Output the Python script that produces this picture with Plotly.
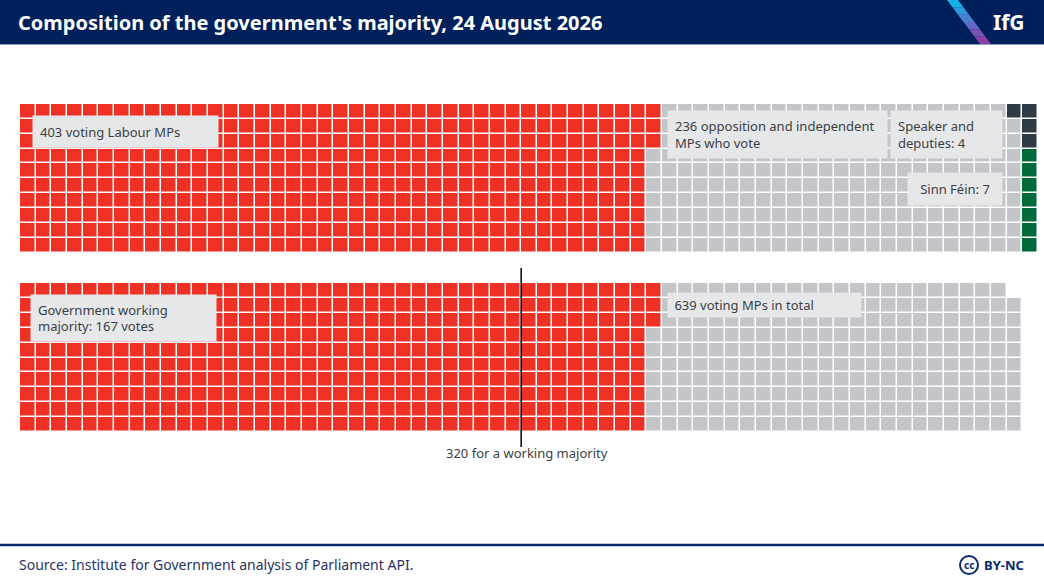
import plotly.graph_objects as go
import numpy as np

W, H = 1044, 586

# seats in the Commons, 24 August 2026
groups = ['Labour', 'Opposition and independent', 'Speaker and deputies', 'Sinn Féin']
seats_all = [403, 236, 4, 7]
seats_voting = [403, 236]
n_rows = 10
n_cols = 65
majority_line = 320

colors = ['#EE3124', '#C3C5C8', '#2E3A44', '#006A3A']


def build_grid(voting, other):
    # voting seats go column by column, the last part column sits at the bottom;
    # non-voting seats then fill whatever cells are still empty
    grid = np.full((n_rows, n_cols), np.nan)
    seq = []
    for i, n in enumerate(voting):
        seq += [i] * n
    full = len(seq) // n_rows
    rest = len(seq) % n_rows
    k = 0
    for c in range(full):
        for r in range(n_rows):
            grid[r, c] = seq[k]
            k += 1
    for r in range(n_rows - rest, n_rows):
        grid[r, full] = seq[k]
        k += 1
    seq2 = []
    for i, n in enumerate(other):
        seq2 += [len(voting) + i] * n
    k = 0
    for c in range(n_cols):
        for r in range(n_rows):
            if np.isnan(grid[r, c]) and k < len(seq2):
                grid[r, c] = seq2[k]
                k += 1
    return grid


top = build_grid(seats_all[:2], seats_all[2:])
bottom = build_grid(seats_voting, [])

cscale = [[0, colors[0]], [0.25, colors[0]], [0.25, colors[1]], [0.5, colors[1]],
          [0.5, colors[2]], [0.75, colors[2]], [0.75, colors[3]], [1, colors[3]]]


def px(x):
    return x / W


def py(y):
    return 1 - y / H


fig = go.Figure()
for grid, xa, ya in [(top, 'x', 'y'), (bottom, 'x2', 'y2')]:
    fig.add_trace(go.Heatmap(z=grid, x=list(range(n_cols)), y=list(range(n_rows)),
                             colorscale=cscale, zmin=0, zmax=3, showscale=False,
                             xgap=1.5, ygap=1.5, hoverinfo='skip', xaxis=xa, yaxis=ya))

ax = dict(range=[-0.5, n_cols - 0.5], domain=[px(20), px(1038)], visible=False, fixedrange=True)
fig.update_layout(
    width=W, height=H,
    margin=dict(l=0, r=0, t=0, b=0),
    paper_bgcolor='white', plot_bgcolor='white',
    font=dict(family='Noto Sans', color='#3A3F44'),
    xaxis=dict(ax, anchor='y'),
    xaxis2=dict(ax, anchor='y2'),
    yaxis=dict(range=[n_rows - 0.5, -0.5], domain=[py(252.5), py(104)], visible=False),
    yaxis2=dict(range=[n_rows - 0.5, -0.5], domain=[py(432), py(283)], visible=False),
)

# majority line
fig.add_shape(type='line', xref='x2', yref='paper', x0=majority_line / n_rows - 0.5,
              x1=majority_line / n_rows - 0.5, y0=py(447), y1=py(268),
              line=dict(color='black', width=1.5))
fig.add_annotation(x=majority_line / n_rows - 0.5, xref='x2', y=py(453), yref='paper',
                   text='%d for a working majority' % majority_line, showarrow=False, xshift=6,
                   xanchor='center', yanchor='middle', font=dict(size=13, color='#3A3F44'))

sp = '&nbsp;'
labels = [
    ('%d voting Labour MPs' % seats_all[0], 32, 115, 185, 31, 'left'),
    ('%d opposition and independent<br>MPs who vote' % seats_all[1], 667, 110, 219, 47, 'left'),
    ('Speaker and<br>deputies: %d' % seats_all[2], 890, 110, 111, 47, 'left'),
    ('Sinn Féin: %d' % seats_all[3], 907, 172, 94, 32, 'center'),
    ('Government working<br>majority: %d votes' % (seats_all[0] - seats_all[1]), 30, 294, 185, 46, 'left'),
    (sp + '%d voting MPs in total' % sum(seats_voting), 667, 292, 193, 24, 'left'),
]
for text, x0, y0, w, h, al in labels:
    pad = 7 if h > 28 else 3
    fig.add_annotation(x=px(x0), y=py(y0), xref='paper', yref='paper', xanchor='left', yanchor='top',
                       text=text, showarrow=False, align=al, valign='middle',
                       width=w - 2 * pad, height=h - 2 * pad, borderpad=pad,
                       bgcolor='#E6E7E9', font=dict(size=13, color='#3A3F44'))

# header band
fig.add_shape(type='rect', xref='paper', yref='paper', x0=0, x1=1, y0=py(44), y1=1,
              fillcolor='#00205B', line_width=0, layer='below')
fig.add_shape(type='line', xref='paper', yref='paper', x0=0, x1=1, y0=py(44.5), y1=py(44.5),
              line=dict(color='#8A9BC0', width=1))
fig.add_annotation(x=px(16), y=py(22), xref='paper', yref='paper', xanchor='left', yanchor='middle',
                   text="<b>Composition of the government's majority, 24 August 2026</b>",
                   showarrow=False, font=dict(size=20, color='white'))
fig.add_annotation(x=px(1027), y=py(22), xref='paper', yref='paper', xanchor='right', yanchor='middle',
                   text='<b>IfG</b>', showarrow=False, font=dict(size=21, color='white'))

# logo stripe, cyan to purple
stripe = ['#10B4E6', '#2A9ADD', '#4680D2', '#5F68C4', '#7652B4', '#8A3FA5']
n = len(stripe)
for i, c in enumerate(stripe):
    ya, yb = 44 * i / n, 44 * (i + 1) / n
    xa, xb = 947 + 33 * i / n, 947 + 33 * (i + 1) / n
    path = 'M %f %f L %f %f L %f %f L %f %f Z' % (px(xa), py(ya), px(xa + 11), py(ya),
                                                  px(xb + 11), py(yb), px(xb), py(yb))
    fig.add_shape(type='path', path=path, xref='paper', yref='paper', fillcolor=c, line_width=0)

# footer
fig.add_shape(type='line', xref='paper', yref='paper', x0=0, x1=1, y0=py(545), y1=py(545),
              line=dict(color='#0B2A6A', width=2.5))
fig.add_annotation(x=px(17), y=py(564), xref='paper', yref='paper', xanchor='left', yanchor='middle',
                   text='Source: Institute for Government analysis of Parliament API.', showarrow=False,
                   font=dict(size=14, color='#27335E'))
fig.add_shape(type='circle', xref='paper', yref='paper', x0=px(960), x1=px(978), y0=py(574), y1=py(556),
              line=dict(color='#0B2A6A', width=2))
fig.add_annotation(x=px(969), y=py(565), xref='paper', yref='paper', xanchor='center', yanchor='middle',
                   text='<b>cc</b>', showarrow=False, font=dict(size=10, color='#0B2A6A'))
fig.add_annotation(x=px(1026), y=py(565), xref='paper', yref='paper', xanchor='right', yanchor='middle',
                   text='<b>BY-NC</b>', showarrow=False, font=dict(size=13, color='#0B2A6A'))

fig.write_html('out.html', config={'displayModeBar': False},
               post_script="document.body.style.margin='0';document.body.style.overflow='hidden';")
